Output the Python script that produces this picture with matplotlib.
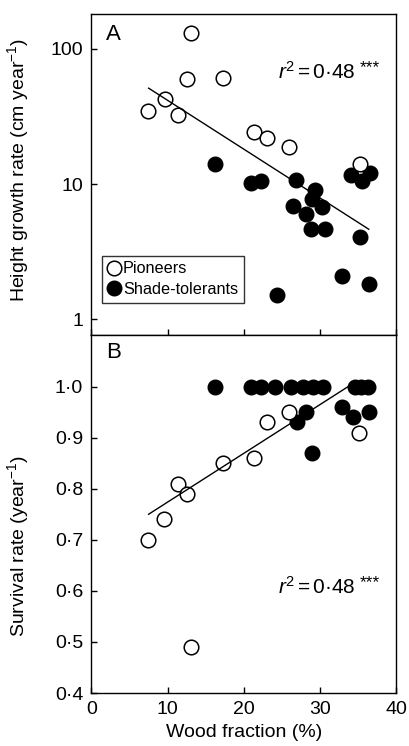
import numpy as np
import matplotlib
matplotlib.use('Agg')
import matplotlib.pyplot as plt
from matplotlib.ticker import FixedLocator, FixedFormatter, NullLocator

plt.rcParams['font.family'] = ['Liberation Sans', 'DejaVu Sans']
plt.rcParams['mathtext.fontset'] = 'custom'
plt.rcParams['mathtext.rm'] = 'Liberation Sans'
plt.rcParams['mathtext.it'] = 'Liberation Sans:italic'

# panel A - height growth rate (cm/yr), log scale
pio_x_a = [7.4, 9.6, 11.4, 13.0, 12.6, 17.3, 21.3, 23.0, 25.9, 35.2]
pio_y_a = [34.7, 42.5, 32.4, 131, 60, 60.7, 24.4, 21.9, 18.9, 14.1]
sha_x_a = [16.2, 20.9, 22.2, 26.8, 29.4, 29.0, 26.4, 28.1, 30.3, 28.8, 30.6,
           35.2, 34.1, 35.5, 36.5, 32.9, 36.4, 24.3]
sha_y_a = [14.0, 10.1, 10.5, 10.7, 9.0, 7.8, 6.9, 6.0, 6.8, 4.67, 4.67,
           4.08, 11.65, 10.5, 12.0, 2.10, 1.82, 1.51]
fit_x_a = [7.5, 36.4]
fit_y_a = [51.2, 4.63]

# panel B - survival rate (1/yr)
pio_x_b = [7.4, 9.5, 11.4, 12.6, 13.0, 17.3, 21.3, 23.0, 25.9, 35.1]
pio_y_b = [0.70, 0.74, 0.81, 0.79, 0.49, 0.85, 0.86, 0.93, 0.95, 0.91]
sha_x_b = [16.2, 20.9, 22.2, 24.1, 26.2, 27.7, 29.1, 30.4, 34.6, 35.4, 36.3,
           27.0, 28.1, 28.9, 32.9, 34.3, 36.4]
sha_y_b = [1.0, 1.0, 1.0, 1.0, 1.0, 1.0, 1.0, 1.0, 1.0, 1.0, 1.0,
           0.93, 0.95, 0.87, 0.96, 0.94, 0.95]
fit_x_b = [7.5, 33.7]
fit_y_b = [0.75, 1.0]

xticks = [0, 10, 20, 30, 40]
yticks_a = [1, 10, 100]
yticks_b = [0.4, 0.5, 0.6, 0.7, 0.8, 0.9, 1.0]
ylabels_b = ['0·4', '0·5', '0·6', '0·7', '0·8', '0·9', '1·0']

fs = 14
ms = 10.5

fig = plt.figure(figsize=(4.09, 7.46), dpi=100)
ax1 = fig.add_axes([0.2237, 0.551, 0.745, 0.4302])
ax2 = fig.add_axes([0.2237, 0.071, 0.745, 0.480])

for ax in (ax1, ax2):
    ax.tick_params(direction='in', length=4.5, width=1, labelsize=fs, pad=6)
    for s in ax.spines.values():
        s.set_linewidth(1)
    ax.set_xlim(0, 40)
    ax.xaxis.set_major_locator(FixedLocator(xticks))


def r2_label(ax, y):
    # r^2 text with small raised stars
    ax.text(0.865, y, r'$\mathit{r}^{2}\,$=$\,$0·48', transform=ax.transAxes,
            fontsize=15, ha='right', va='center')
    ax.text(0.880, y + 0.012, '***', transform=ax.transAxes,
            fontsize=12.5, ha='left', va='center')


# top panel
ax1.set_yscale('log')
ax1.set_ylim(0.765, 181)
ax1.yaxis.set_major_locator(FixedLocator(yticks_a))
ax1.yaxis.set_major_formatter(FixedFormatter([str(v) for v in yticks_a]))
ax1.yaxis.set_minor_locator(NullLocator())
ax1.tick_params(labelbottom=False)
ax1.plot(sha_x_a, sha_y_a, 'o', ms=ms, mfc='black', mec='black', mew=1, zorder=2)
ax1.plot(pio_x_a, pio_y_a, 'o', ms=ms, mfc='white', mec='black', mew=1.1, zorder=3)
ax1.plot(fit_x_a, fit_y_a, '-', color='black', lw=1, zorder=4)
ax1.set_ylabel(r'Height growth rate (cm year$^{-1}$)', fontsize=fs)
ax1.yaxis.set_label_coords(-0.2, 0.514)
ax1.text(0.048, 0.935, 'A', transform=ax1.transAxes, fontsize=16, ha='left', va='center')
r2_label(ax1, 0.82)

h1, = ax1.plot([], [], 'o', ms=ms, mfc='white', mec='black', mew=1.1)
h2, = ax1.plot([], [], 'o', ms=ms, mfc='black', mec='black')
leg = ax1.legend([h1, h2], ['Pioneers', 'Shade-tolerants'], loc='lower left',
                 bbox_to_anchor=(0.034, 0.10), borderaxespad=0, fontsize=11.7,
                 frameon=True, fancybox=False, handlelength=0.8, handletextpad=0.15,
                 borderpad=0.35, labelspacing=0.35)
leg.get_frame().set_edgecolor('black')
leg.get_frame().set_linewidth(1)

# bottom panel
ax2.set_ylim(0.4, 1.101)
ax2.yaxis.set_major_locator(FixedLocator(yticks_b))
ax2.yaxis.set_major_formatter(FixedFormatter(ylabels_b))
ax2.plot(sha_x_b, sha_y_b, 'o', ms=ms, mfc='black', mec='black', mew=1, zorder=2)
ax2.plot(pio_x_b, pio_y_b, 'o', ms=ms, mfc='white', mec='black', mew=1.1, zorder=3)
ax2.plot(fit_x_b, fit_y_b, '-', color='black', lw=1, zorder=4)
ax2.set_xlabel('Wood fraction (%)', fontsize=fs)
ax2.set_ylabel(r'Survival rate (year$^{-1}$)', fontsize=fs)
ax2.yaxis.set_label_coords(-0.2, 0.41)
ax2.text(0.048, 0.952, 'B', transform=ax2.transAxes, fontsize=16, ha='left', va='center')
r2_label(ax2, 0.296)

fig.savefig('out.png', dpi=100)
